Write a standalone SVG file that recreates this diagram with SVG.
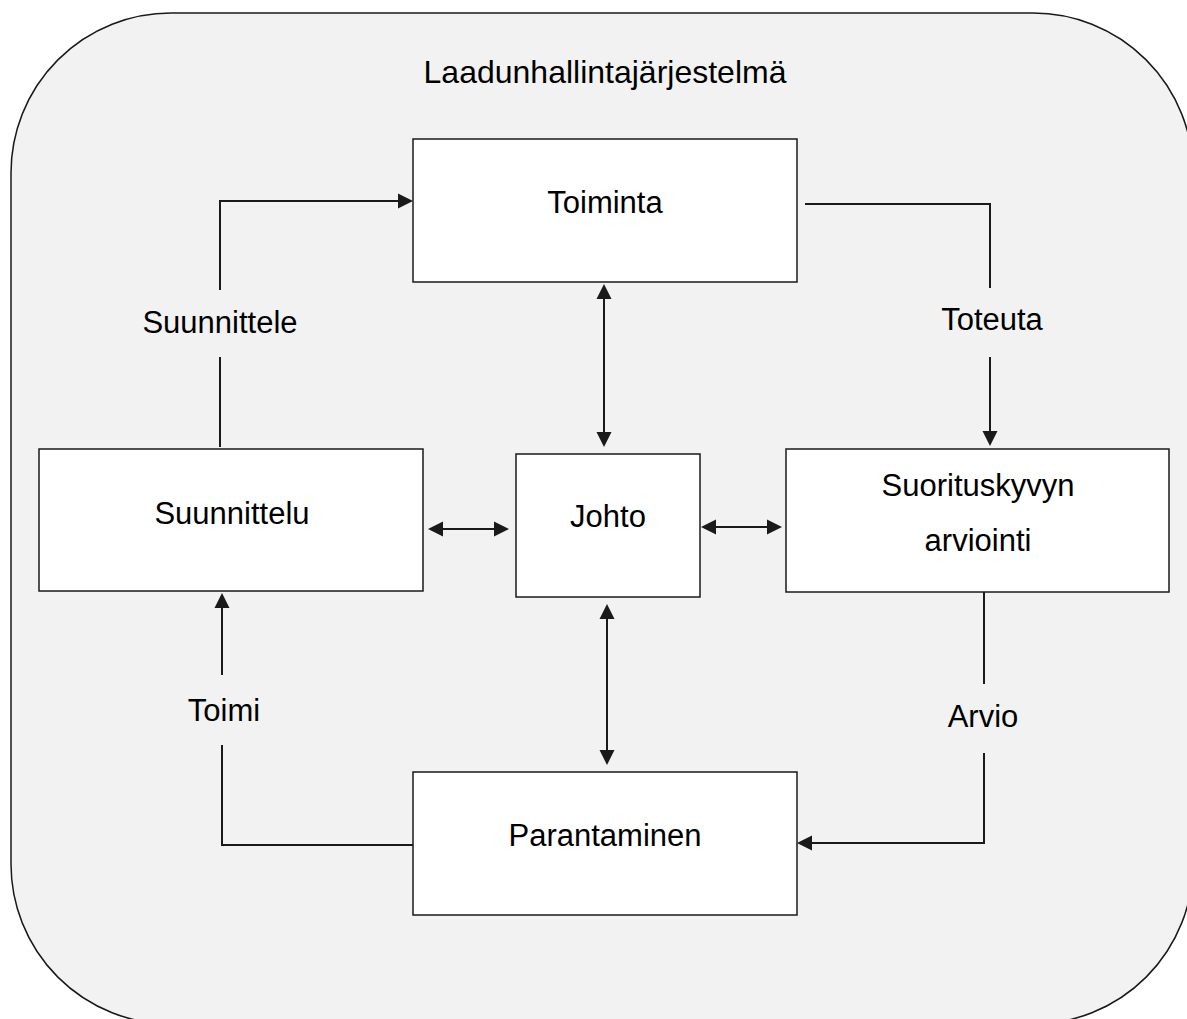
<svg xmlns="http://www.w3.org/2000/svg" width="1187" height="1019" viewBox="0 0 1187 1019">
  <style>
    .frame { fill: #f2f2f2; stroke: #1a1a1a; stroke-width: 1.5; }
    .box { fill: #ffffff; stroke: #1a1a1a; stroke-width: 1.5; }
    .lbl { font-family: "Liberation Sans", Arial, sans-serif; font-size: 31px; fill: #000000; text-anchor: middle; }
    .title { font-size: 32px; }
    .conn { fill: none; stroke: #1a1a1a; stroke-width: 2; }
    .one { marker-end: url(#ah); }
    .two { marker-start: url(#ah); marker-end: url(#ah); }
  </style>
  <defs>
    <marker id="ah" markerUnits="userSpaceOnUse" markerWidth="16" markerHeight="16" refX="0" refY="7.5" orient="auto-start-reverse" viewBox="0 0 16 15">
      <path d="M0,0 L15,7.5 L0,15 z" fill="#1a1a1a"/>
    </marker>
  </defs>

  <g id="system">
    <rect class="frame" x="11" y="13" width="1182" height="1011" rx="160" ry="160"/>
    <text class="lbl title" x="605" y="83">Laadunhallintajärjestelmä</text>
  </g>

  <g id="connectors">
    <path class="conn" d="M220,447 V357"/>
    <path class="conn one" d="M220,290 V201 H398"/>
    <text class="lbl" x="220" y="333">Suunnittele</text>

    <path class="conn" d="M805,204 H990 V288"/>
    <path class="conn one" d="M990,357 V431"/>
    <text class="lbl" x="992" y="330">Toteuta</text>

    <path class="conn" d="M984,592 V684"/>
    <path class="conn one" d="M984,753 V843 H812"/>
    <text class="lbl" x="983" y="727">Arvio</text>

    <path class="conn" d="M413,845 H222 V745"/>
    <path class="conn one" d="M222,675 V608"/>
    <text class="lbl" x="224" y="721">Toimi</text>

    <path class="conn two" d="M604,299 V432"/>
    <path class="conn two" d="M607,619 V750"/>
    <path class="conn two" d="M443,529 H494"/>
    <path class="conn two" d="M716,527 H767"/>
  </g>

  <g id="toiminta">
    <rect class="box" x="413" y="139" width="384" height="143"/>
    <text class="lbl" x="605" y="213">Toiminta</text>
  </g>
  <g id="suunnittelu">
    <rect class="box" x="39" y="449" width="384" height="142"/>
    <text class="lbl" x="232" y="524">Suunnittelu</text>
  </g>
  <g id="johto">
    <rect class="box" x="516" y="454" width="184" height="143"/>
    <text class="lbl" x="608" y="527">Johto</text>
  </g>
  <g id="suorituskyky">
    <rect class="box" x="786" y="449" width="383" height="143"/>
    <text class="lbl" x="978" y="496">Suorituskyvyn</text>
    <text class="lbl" x="978" y="551">arviointi</text>
  </g>
  <g id="parantaminen">
    <rect class="box" x="413" y="772" width="384" height="143"/>
    <text class="lbl" x="605" y="846">Parantaminen</text>
  </g>
</svg>
